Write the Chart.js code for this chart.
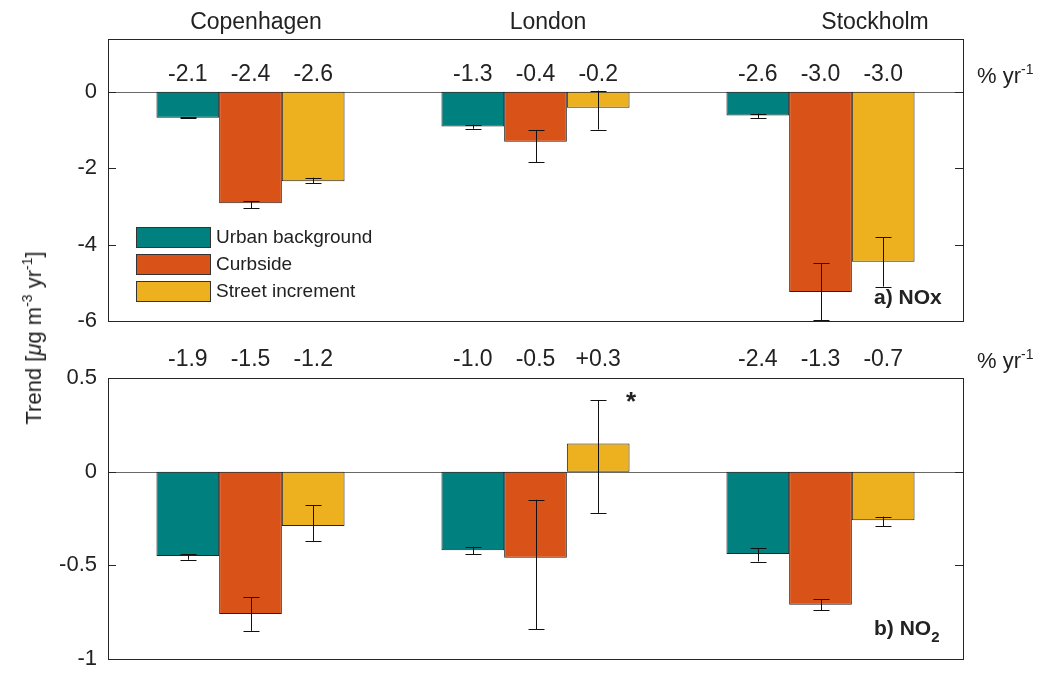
<!DOCTYPE html>
<html>
<head>
<meta charset="utf-8">
<script src="https://cdn.jsdelivr.net/npm/chart.js@4"></script>
<style>
  body { margin: 0; background: #fff; }
  #wrap { position: relative; width: 1046px; height: 676px; overflow: hidden; font-family: "Liberation Sans", Arial, sans-serif; color: #222; }
  canvas { position: absolute; left: 0; }
  .txt { position: absolute; white-space: nowrap; transform: translate(-50%, -50%); font-size: 22px; }
  .left { transform: translate(0, -50%); }
  sup { font-size: 14px; vertical-align: 9px; line-height: 0; }
  sub { font-size: 15px; vertical-align: -7px; line-height: 0; }
</style>
</head>
<body>
<div id="wrap">
  <canvas id="noxCanvas" width="1046" height="330" style="top:0"></canvas>
  <canvas id="no2Canvas" width="1046" height="346" style="top:330px"></canvas>

  <div class="txt" style="left:256px; top:21px; font-size:23px">Copenhagen</div>
  <div class="txt" style="left:548px; top:21px; font-size:23px">London</div>
  <div class="txt" style="left:875px; top:21px; font-size:23px">Stockholm</div>

  <div class="txt left" style="left:977px; top:76px">% yr<sup>-1</sup></div>
  <div class="txt left" style="left:977px; top:361px">% yr<sup>-1</sup></div>

  <div class="txt left" style="left:874px; top:297px; font-weight:bold; font-size:21px">a) NOx</div>
  <div class="txt left" style="left:874px; top:628px; font-weight:bold; font-size:21px">b) NO<sub>2</sub></div>
  <div class="txt" style="left:631px; top:401px; font-weight:bold; font-size:26px">*</div>

  <div class="txt" style="left:34px; top:338px; transform: translate(-50%, -50%) rotate(-90deg)">Trend [<i>&mu;</i>g m<sup>-3</sup> yr<sup>-1</sup>]</div>
</div>

<script>
// categories and series
const cities = ["Copenhagen", "London", "Stockholm"];
const seriesNames = ["Urban background", "Curbside", "Street increment"];
const colors = ["#00807f", "#d95319", "#edb120"];

// a) NOx trends [ug m-3 yr-1]
const noxUrban = [-0.68, -0.91, -0.62];
const noxCurb = [-2.92, -1.31, -5.24];
const noxStreet = [-2.34, -0.42, -4.45];
// error bar [low, high]
const noxUrbanErr = [[-0.69, -0.67], [-0.97, -0.86], [-0.70, -0.57]];
const noxCurbErr = [[-3.05, -2.87], [-1.85, -1.00], [-5.98, -4.49]];
const noxStreetErr = [[-2.39, -2.25], [-0.99, 0.03], [-5.10, -3.81]];
// relative trends, % per year
const noxUrbanPct = ["-2.1", "-1.3", "-2.6"];
const noxCurbPct = ["-2.4", "-0.4", "-3.0"];
const noxStreetPct = ["-2.6", "-0.2", "-3.0"];
const noxTicks = [0, -2, -4, -6];

// b) NO2 trends
const no2Urban = [-0.45, -0.42, -0.44];
const no2Curb = [-0.76, -0.46, -0.71];
const no2Street = [-0.29, 0.15, -0.26];
const no2UrbanErr = [[-0.47, -0.44], [-0.44, -0.40], [-0.48, -0.41]];
const no2CurbErr = [[-0.85, -0.67], [-0.84, -0.15], [-0.74, -0.68]];
const no2StreetErr = [[-0.37, -0.18], [-0.22, 0.38], [-0.29, -0.24]];
const no2UrbanPct = ["-1.9", "-1.0", "-2.4"];
const no2CurbPct = ["-1.5", "-0.5", "-1.3"];
const no2StreetPct = ["-1.2", "+0.3", "-0.7"];
const no2Ticks = [0.5, 0, -0.5, -1];

const FONT = '"Liberation Sans", Arial, sans-serif';

// zero line, error bars, % labels, box with inner ticks, legend
const panelPlugin = {
  id: "panel",
  beforeDatasetsDraw(chart) {
    const { ctx, chartArea: a, scales: { y } } = chart;
    const y0 = Math.round(y.getPixelForValue(0)) + 0.5;
    ctx.save();
    ctx.strokeStyle = "#6a6a6a";
    ctx.lineWidth = 1;
    ctx.beginPath();
    ctx.moveTo(a.left, y0);
    ctx.lineTo(a.right, y0);
    ctx.stroke();
    ctx.restore();
  },
  afterDatasetsDraw(chart, args, opts) {
    const { ctx, chartArea: a, scales: { y } } = chart;
    ctx.save();
    // error bars
    ctx.strokeStyle = "#111";
    ctx.lineWidth = 1;
    chart.data.datasets.forEach((ds, i) => {
      const meta = chart.getDatasetMeta(i);
      ds.errors.forEach((e, j) => {
        const x = Math.round(meta.data[j].x) + 0.5;
        const lo = y.getPixelForValue(e[0]);
        const hi = y.getPixelForValue(e[1]);
        ctx.beginPath();
        ctx.moveTo(x, lo); ctx.lineTo(x, hi);
        ctx.moveTo(x - 8, Math.round(lo) + 0.5); ctx.lineTo(x + 8, Math.round(lo) + 0.5);
        ctx.moveTo(x - 8, Math.round(hi) + 0.5); ctx.lineTo(x + 8, Math.round(hi) + 0.5);
        ctx.stroke();
      });
      // % labels
      ctx.fillStyle = "#222";
      ctx.font = "23px " + FONT;
      ctx.textAlign = "center";
      ctx.textBaseline = "middle";
      ds.pct.forEach((p, j) => {
        ctx.fillText(p, meta.data[j].x, a.top + opts.pctOffset);
      });
    });

    // box
    ctx.strokeStyle = "#262626";
    ctx.lineWidth = 1;
    ctx.strokeRect(Math.round(a.left) + 0.5, Math.round(a.top) + 0.5, Math.round(a.right - a.left), Math.round(a.bottom - a.top));
    // inner tick marks on both sides
    y.ticks.forEach(t => {
      const py = Math.round(y.getPixelForValue(t.value)) + 0.5;
      ctx.beginPath();
      ctx.moveTo(a.left, py); ctx.lineTo(a.left + 8, py);
      ctx.moveTo(a.right - 8, py); ctx.lineTo(a.right, py);
      ctx.stroke();
    });

    // legend
    if (opts.legend) {
      const lg = opts.legend;
      ctx.font = "19px " + FONT;
      ctx.textAlign = "left";
      ctx.textBaseline = "middle";
      chart.data.datasets.forEach((ds, i) => {
        const top = lg.y + i * lg.rowH;
        ctx.fillStyle = ds.backgroundColor;
        ctx.fillRect(lg.x, top, lg.w, lg.h);
        ctx.strokeStyle = "#333";
        ctx.strokeRect(lg.x + 0.5, top + 0.5, lg.w, lg.h);
        ctx.fillStyle = "#222";
        ctx.fillText(ds.label, lg.x + lg.w + 6, top + lg.h / 2 + 1);
      });
    }
    ctx.restore();
  }
};

function makeDatasets(values, errors, pcts) {
  return values.map((v, i) => ({
    label: seriesNames[i],
    data: v,
    errors: errors[i],
    pct: pcts[i],
    backgroundColor: colors[i],
    borderColor: "#222",
    borderWidth: 1,
    borderSkipped: false,
    categoryPercentage: 0.66,
    barPercentage: 1.0
  }));
}

function makeChart(id, datasets, yMin, yMax, ticks, padding, pluginOpts) {
  return new Chart(document.getElementById(id), {
    type: "bar",
    data: { labels: cities, datasets: datasets },
    options: {
      responsive: false,
      animation: false,
      devicePixelRatio: 1,
      layout: { padding: padding },
      plugins: {
        legend: { display: false },
        tooltip: { enabled: false },
        panel: pluginOpts
      },
      scales: {
        x: { display: false, offset: true },
        y: {
          min: yMin,
          max: yMax,
          grid: { display: false, drawTicks: false },
          border: { display: false },
          afterBuildTicks: s => { s.ticks = ticks.map(v => ({ value: v })); },
          afterFit: s => { s.width = 108; s.paddingTop = 0; s.paddingBottom = 0; },
          ticks: {
            padding: 11,
            color: "#222",
            font: { family: FONT, size: 22 },
            callback: v => String(v)
          }
        }
      }
    },
    plugins: [panelPlugin]
  });
}

makeChart("noxCanvas",
  makeDatasets([noxUrban, noxCurb, noxStreet], [noxUrbanErr, noxCurbErr, noxStreetErr], [noxUrbanPct, noxCurbPct, noxStreetPct]),
  -6, 1.38, noxTicks,
  { left: 0, right: 83, top: 39, bottom: 9 },
  { pctOffset: 36, legend: { x: 136, y: 227, w: 74, h: 20, rowH: 27 } });

makeChart("no2Canvas",
  makeDatasets([no2Urban, no2Curb, no2Street], [no2UrbanErr, no2CurbErr, no2StreetErr], [no2UrbanPct, no2CurbPct, no2StreetPct]),
  -1, 0.5, no2Ticks,
  { left: 0, right: 83, top: 48, bottom: 17 },
  { pctOffset: -18 });
</script>
</body>
</html>
